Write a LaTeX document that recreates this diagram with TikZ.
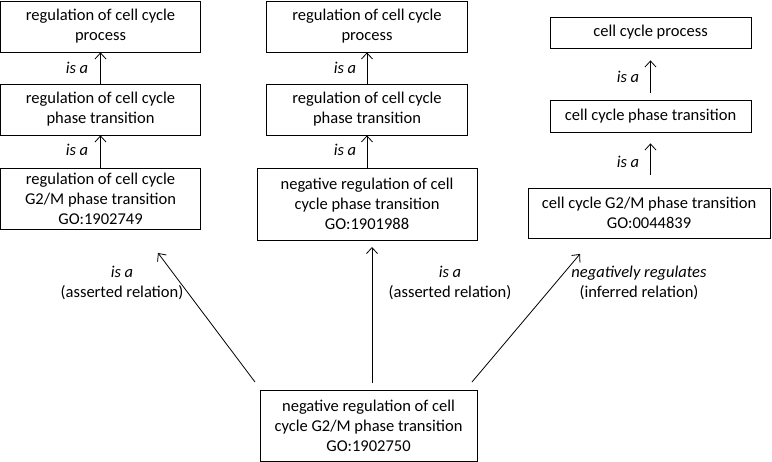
\documentclass[tikz,border=0pt]{standalone}
\usepackage{fontspec}
\setmainfont{Carlito}
\usepackage{tikz}
\usetikzlibrary{arrows.meta}

\tikzset{
	box/.style={shape=rectangle, draw, inner sep=0, align=center, line width=0.8pt, font=\fontsize{16.5}{20}\selectfont},
	rel/.style={inner sep=0, align=center, font=\fontsize{16.5}{20}\selectfont},
	isa/.style={line width=0.8pt, -{Straight Barb[length=6pt, width=11pt]}}
}

\begin{document}
\begin{tikzpicture}[x=1pt, y=-1pt]
	\useasboundingbox (0, 0) rectangle (772, 462);
	% Terms, left column:
	\node[box, minimum width=200pt, minimum height=51pt](Rect1) at (100.5, 26.5){regulation of cell cycle\\process};
	\node[box, minimum width=200pt, minimum height=51pt](Rect2) at (100.5, 109.5){regulation of cell cycle\\phase transition};
	\node[box, minimum width=200pt, minimum height=61pt](Rect3) at (100.5, 198.5){regulation of cell cycle\\G2/M phase transition\\GO:1902749};
	% Terms, middle column:
	\node[box, minimum width=201pt, minimum height=51pt](Rect4) at (367, 26.5){regulation of cell cycle\\process};
	\node[box, minimum width=201pt, minimum height=51pt](Rect5) at (367, 109.5){regulation of cell cycle\\phase transition};
	\node[box, minimum width=220pt, minimum height=72pt](Rect6) at (367, 204){negative regulation of cell\\cycle phase transition\\GO:1901988};
	% Terms, right column:
	\node[box, minimum width=201pt, minimum height=31pt](Rect7) at (650.5, 32.5){cell cycle process};
	\node[box, minimum width=201pt, minimum height=32pt](Rect8) at (650.5, 116){cell cycle phase transition};
	\node[box, minimum width=242pt, minimum height=50pt](Rect9) at (649, 213){cell cycle G2/M phase transition\\GO:0044839};
	% Bottom term:
	\node[box, minimum width=217pt, minimum height=71pt](Rect10) at (368.5, 425.5){negative regulation of cell\\cycle G2/M phase transition\\GO:1902750};
	% Relations in the columns:
	\draw[isa] (Rect2.north) -- (Rect1.south);
	\draw[isa] (Rect3.north) -- (Rect2.south);
	\draw[isa] (Rect5.north) -- (Rect4.south);
	\draw[isa] (Rect6.north) -- (Rect5.south);
	\draw[isa, shorten <=7pt, shorten >=12pt] (Rect8.north) -- (Rect7.south);
	\draw[isa, shorten <=13pt, shorten >=11pt] ([xshift=1.5pt]Rect9.north) -- (Rect8.south);
	\node[rel](Lbl1) at (77, 68){\textit{is a}};
	\node[rel](Lbl2) at (77, 150){\textit{is a}};
	\node[rel](Lbl3) at (345, 68){\textit{is a}};
	\node[rel](Lbl4) at (345, 150){\textit{is a}};
	\node[rel](Lbl5) at (628, 77){\textit{is a}};
	\node[rel](Lbl6) at (628, 162){\textit{is a}};
	% Relations from the bottom term:
	\coordinate (T1) at (255, 382);
	\coordinate (H1) at (158, 253);
	\coordinate (T2) at (372, 383);
	\coordinate (H2) at (372, 247);
	\coordinate (T3) at (472, 382);
	\coordinate (H3) at (580, 254);
	\draw[isa] (T1) -- (H1);
	\draw[isa] (T2) -- (H2);
	\draw[isa] (T3) -- (H3);
	\node[rel](Lbl7) at (122, 283){\textit{is a}\\(asserted relation)};
	\node[rel](Lbl8) at (450, 283){\textit{is a}\\(asserted relation)};
	\node[rel](Lbl9) at (639, 283){\textit{negatively regulates}\\(inferred relation)};
\end{tikzpicture}
\end{document}
